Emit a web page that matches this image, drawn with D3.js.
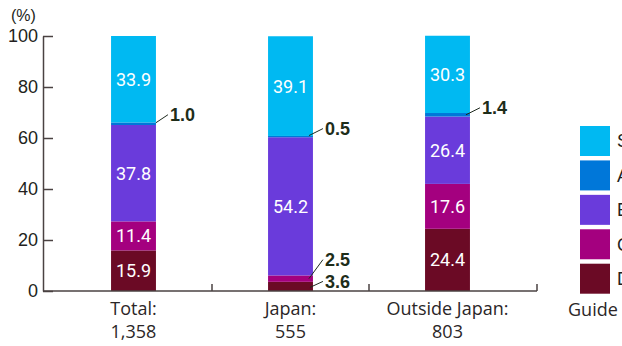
<!DOCTYPE html>
<html>
<head>
<meta charset="utf-8">
<script src="https://cdn.jsdelivr.net/npm/d3@7"></script>
<style>
  html, body { margin: 0; padding: 0; background: #fff; overflow: hidden; }
</style>
</head>
<body>
<div id="chart"></div>
<script>
// data
const categories = ["Total", "Japan", "Outside Japan"]
const categoryCounts = ["1,358", "555", "803"]
const ratings = ["D", "C", "B", "A", "S"]           // bottom to top
const legendOrder = ["S", "A", "B", "C", "D"]
const valuesD = [15.9, 3.6, 24.4]
const valuesC = [11.4, 2.5, 17.6]
const valuesB = [37.8, 54.2, 26.4]
const valuesA = [1.0, 0.5, 1.4]
const valuesS = [33.9, 39.1, 30.3]
const yTicks = [0, 20, 40, 60, 80, 100]

const colors = {S: "#00b9f2", A: "#0077d9", B: "#6a3bdb", C: "#a4007f", D: "#6b0a25"}

// small segments get a label outside with a leader line, offsets from bar edge / segment middle
const callouts = {
  "Total|A":  {from: [0, -1], to: [12, -9]},
  "Japan|A":  {from: [-4, -1], to: [10, -8]},
  "Outside Japan|A": {from: [-4, 0], to: [10, -7]},
  "Japan|C":  {from: [-4, 0], to: [10, -19]},
  "Japan|D":  {from: [-3, 1], to: [10, -5]}
}

const w = 622, h = 346
const font = "'Liberation Sans', Arial, sans-serif"
const axisColor = "#4a4242"
const textColor = "#231f20"

const rows = categories.map((c, i) => ({
  cat: c, D: valuesD[i], C: valuesC[i], B: valuesB[i], A: valuesA[i], S: valuesS[i]
}))

const svg = d3.select("#chart").append("svg")
  .attr("width", w).attr("height", h)

const x = d3.scaleBand().domain(categories).range([55, 526]).paddingInner(0.714).paddingOuter(0.357)
const y = d3.scaleLinear().domain([0, 100]).range([291, 36])

// y axis
const yAxis = svg.append("g")
  .attr("transform", "translate(43,0)")
  .call(d3.axisLeft(y).tickValues(yTicks).tickSize(-10).tickSizeOuter(0).tickPadding(5))
yAxis.select(".domain").attr("stroke", axisColor).attr("stroke-width", 1.5)
yAxis.selectAll("line").attr("stroke", axisColor).attr("stroke-width", 1.5)
yAxis.selectAll("text")
  .attr("fill", textColor)
  .style("font-size", "18px")
  .style("font-family", font)

svg.append("text")
  .attr("x", 11).attr("y", 21)
  .attr("fill", textColor)
  .style("font-size", "16px")
  .style("font-family", font)
  .text("(%)")

// stacked bars
const stack = d3.stack().keys(ratings)(rows)
const bars = svg.append("g").attr("class", "bars")
stack.forEach(layer => {
  bars.selectAll(null)
    .data(layer)
    .join("rect")
    .attr("x", d => x(d.data.cat))
    .attr("width", x.bandwidth())
    .attr("y", d => y(d[1]))
    .attr("height", d => y(d[0]) - y(d[1]))
    .attr("fill", colors[layer.key])
})

// x axis line and separators
const step = x.step()
const xLine = svg.append("g").attr("class", "xaxis")
xLine.append("line")
  .attr("x1", 43).attr("x2", 537)
  .attr("y1", y(0)).attr("y2", y(0))
  .attr("stroke", axisColor).attr("stroke-width", 1.5)
const seps = categories.slice(0, -1).map(c => x(c) + x.bandwidth() + (step - x.bandwidth()) / 2)
seps.push(537)
xLine.selectAll(".sep")
  .data(seps)
  .join("line")
  .attr("x1", d => d).attr("x2", d => d)
  .attr("y1", y(0)).attr("y2", y(0) - 7)
  .attr("stroke", axisColor).attr("stroke-width", 1.5)

// category labels
const catLabels = svg.append("g").attr("class", "cats")
categories.forEach((c, i) => {
  const cx = x(c) + x.bandwidth() / 2
  catLabels.append("text")
    .attr("x", cx).attr("y", 315)
    .attr("text-anchor", "middle")
    .attr("fill", "#2b2627")
    .style("font-size", "18px")
    .style("font-family", "'Open Sans', sans-serif")
    .text(c + ":")
  catLabels.append("text")
    .attr("x", cx).attr("y", 338)
    .attr("text-anchor", "middle")
    .attr("fill", "#2b2627")
    .style("font-size", "18px")
    .style("font-family", "'Open Sans', sans-serif")
    .text(categoryCounts[i])
})

// value labels
const labels = svg.append("g").attr("class", "labels")
stack.forEach(layer => {
  layer.forEach(d => {
    const key = d.data.cat + "|" + layer.key
    const val = d[1] - d[0]
    const cx = x(d.data.cat) + x.bandwidth() / 2
    const cy = (y(d[0]) + y(d[1])) / 2
    const co = callouts[key]
    if (co) {
      const x0 = x(d.data.cat) + x.bandwidth() + co.from[0]
      const y0 = cy + co.from[1]
      const x1 = x(d.data.cat) + x.bandwidth() + co.to[0]
      const y1 = cy + co.to[1]
      labels.append("line")
        .attr("x1", x0).attr("y1", y0).attr("x2", x1).attr("y2", y1)
        .attr("stroke", "#1e2a1e").attr("stroke-width", 1)
      labels.append("text")
        .attr("x", x1 + 2).attr("y", y1)
        .attr("dy", "0.36em")
        .attr("fill", "#1e2d1a")
        .style("font-size", "18px")
        .style("font-weight", "bold")
        .style("font-family", font)
        .text(val.toFixed(1))
    } else {
      labels.append("text")
        .attr("x", cx).attr("y", cy)
        .attr("dy", "0.36em")
        .attr("text-anchor", "middle")
        .attr("fill", "#fff")
        .style("font-size", "18px")
        .style("font-family", "Roboto, sans-serif")
        .text(val.toFixed(1))
    }
  })
})

// legend (cut off at right edge, as in the original)
const legend = svg.append("g").attr("class", "legend")
const ly = d3.scaleBand().domain(legendOrder).range([126, 294]).paddingInner(0.12)
legendOrder.forEach(k => {
  legend.append("rect")
    .attr("x", 580).attr("y", ly(k))
    .attr("width", 30).attr("height", 30)
    .attr("fill", colors[k])
  legend.append("text")
    .attr("x", 617).attr("y", ly(k) + 15)
    .attr("dy", "0.36em")
    .attr("fill", textColor)
    .style("font-size", "18px")
    .style("font-family", font)
    .text(k)
})
legend.append("text")
  .attr("x", 568).attr("y", 316)
  .attr("fill", "#2b2627")
  .style("font-size", "18px")
  .style("font-family", "'Open Sans', sans-serif")
  .text("Guide")
</script>
</body>
</html>
